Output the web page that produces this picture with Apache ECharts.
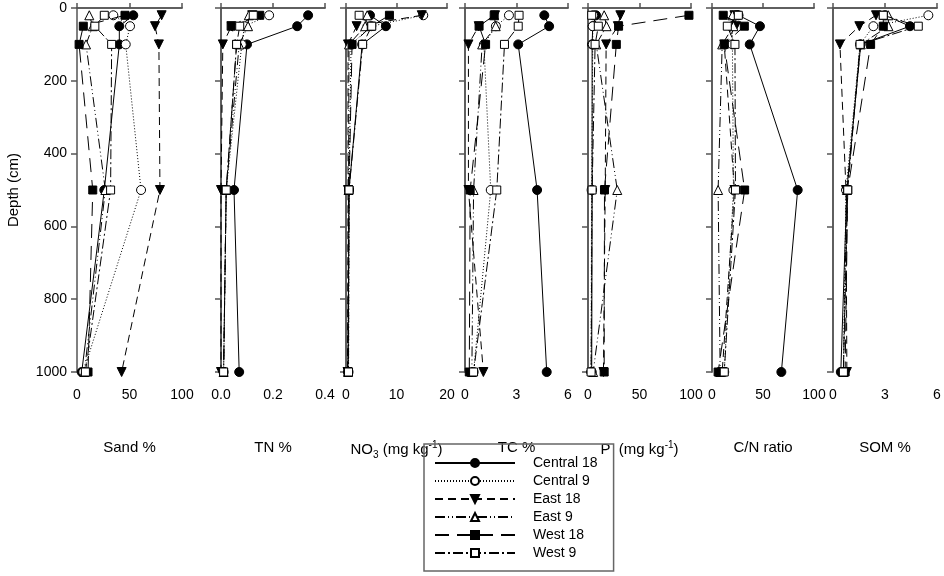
<!DOCTYPE html>
<html>
<head>
<meta charset="utf-8">
<script src="https://cdn.jsdelivr.net/npm/echarts@6/dist/echarts.min.js"></script>
<style>
  html, body { margin: 0; background: #fff; }
  #chart { width: 944px; height: 576px; }
</style>
</head>
<body>
<div id="chart"></div>
<script>
const depths = [20, 50, 100, 500, 1000];
const sites = ['Central 18', 'Central 9', 'East 18', 'East 9', 'West 18', 'West 9'];

// one row per site (same order as sites), one column per depth
const sand = [
  [53.6, 40.3, 40.3, 26, 4.5],
  [34.6, 50.5, 46.4, 61, 6],
  [80.6, 74.3, 78, 79, 42.5],
  [11.7, 15, 8.6, 27, 7],
  [45.7, 6, 2, 15, 10.5],
  [26, 17, 33, 32, 8]
];
const tn = [
  [0.335, 0.293, 0.1, 0.05, 0.07],
  [0.185, 0.09, 0.08, 0.02, 0.01],
  [0.12, 0.04, 0.007, 0.0, 0.0],
  [0.107, 0.104, 0.07, 0.02, 0.01],
  [0.149, 0.039, 0.06, 0.02, 0.01],
  [0.124, 0.072, 0.06, 0.02, 0.01]
];
const no3 = [
  [4.75, 7.9, 3.2, 0.6, 0.4],
  [15.3, 5.0, 1.0, 0.6, 0.5],
  [15.0, 2.1, 0.4, 0.4, 0.3],
  [4.2, 3.8, 0.6, 0.5, 0.4],
  [8.6, 5.0, 1.2, 0.6, 0.4],
  [2.6, 5.1, 3.3, 0.6, 0.5]
];
const tc = [
  [4.62, 4.9, 3.1, 4.2, 4.76],
  [2.56, 1.8, 1.1, 1.5, 0.5],
  [1.75, 0.8, 0.2, 0.2, 1.07],
  [1.7, 1.79, 1.0, 0.5, 0.4],
  [1.7, 0.82, 1.2, 0.3, 0.25],
  [3.15, 3.1, 2.3, 1.85, 0.5]
];
const phos = [
  [7.8, 4.6, 4.0, 4.0, 3.6],
  [5, 4.6, 4.6, 3.5, 3],
  [31.4, 29, 17.6, 16.7, 15],
  [15.7, 18, 8, 28.4, 5],
  [98, 29.7, 27.5, 16, 15.7],
  [3.6, 10, 6.9, 4, 3]
];
const cn = [
  [26, 47, 37, 84, 68],
  [24, 20, 20, 21, 12],
  [22, 23.5, 12, 22, 10],
  [20, 21, 10, 6, 8],
  [11, 31.7, 12, 32, 6],
  [25.8, 15, 22.5, 23, 12]
];
const som = [
  [3.0, 4.44, 1.6, 0.8, 0.45],
  [5.5, 2.33, 1.56, 0.75, 0.6],
  [2.48, 1.52, 0.4, 0.75, 0.8],
  [3.19, 3.2, 1.6, 0.8, 0.6],
  [2.9, 2.9, 2.17, 0.85, 0.7],
  [2.9, 4.92, 1.56, 0.85, 0.6]
];

const font = '"Liberation Sans", Arial, sans-serif';
const axisColor = '#555';

const panels = [
  { values: sand, title: 'Sand %', min: 0, max: 100, step: 50, left: 77, width: 105, offset: 0, box: false },
  { values: tn, title: 'TN %', min: 0, max: 0.4, step: 0.2, left: 221, width: 104, offset: 18, box: true, digits: 1 },
  { values: no3, title: '{t|NO}{sub|3}{t| (mg kg}{sup|-1}{t|)}', min: 0, max: 20, step: 10, left: 346, width: 101, offset: 7, box: true },
  { values: tc, title: 'TC %', min: 0, max: 6, step: 3, left: 465, width: 103, offset: 1, box: true },
  { values: phos, title: '{t|P  (mg kg}{sup|-1}{t|)}', min: 0, max: 100, step: 50, left: 588, width: 103, offset: 0, box: true },
  { values: cn, title: 'C/N ratio', min: 0, max: 100, step: 50, left: 712, width: 102, offset: 1, box: true },
  { values: som, title: 'SOM %', min: 0, max: 6, step: 3, left: 833, width: 104, offset: 0, box: true }
];

const looks = [
  { symbol: 'circle', size: 9, fill: '#000', dash: 'solid', rotate: 0 },
  { symbol: 'circle', size: 9, fill: '#fff', dash: [1, 2], rotate: 0 },
  { symbol: 'triangle', size: 9, fill: '#000', dash: [8, 5], rotate: 180 },
  { symbol: 'triangle', size: 9, fill: '#fff', dash: [10, 3, 1, 3, 1, 3], rotate: 0 },
  { symbol: 'rect', size: 8, fill: '#000', dash: [14, 8], rotate: 0 },
  { symbol: 'rect', size: 8, fill: '#fff', dash: [10, 3, 2, 3], rotate: 0 }
];

const line = { show: true, lineStyle: { color: axisColor, width: 1.5 } };
const grids = [], xAxes = [], yAxes = [], series = [];

panels.forEach((p, k) => {
  grids.push({ left: p.left, width: p.width, top: 8, height: 364 });

  xAxes.push({
    type: 'value', gridIndex: k, position: 'bottom',
    min: p.min, max: p.max, interval: p.step,
    axisLine: line,
    axisTick: { show: true, inside: true, length: 5, lineStyle: { color: axisColor, width: 1.5 } },
    splitLine: { show: false },
    axisLabel: {
      color: '#000', fontSize: 14, fontFamily: font, margin: 16,
      formatter: v => p.digits ? v.toFixed(p.digits) : String(v)
    },
    name: p.title, nameLocation: 'middle', nameGap: 68,
    nameTextStyle: {
      color: '#000', fontSize: 15, fontFamily: font,
      rich: {
        t: { fontSize: 15, fontFamily: font, color: '#000', lineHeight: 20 },
        sub: { fontSize: 10, fontFamily: font, color: '#000', lineHeight: 8, verticalAlign: 'bottom' },
        sup: { fontSize: 10, fontFamily: font, color: '#000', lineHeight: 8, verticalAlign: 'top' }
      }
    }
  });
  // top frame line
  xAxes.push({
    type: 'value', gridIndex: k, position: 'top', min: p.min, max: p.max,
    axisLine: line, axisTick: { show: false }, axisLabel: { show: false }, splitLine: { show: false }
  });

  yAxes.push({
    type: 'value', gridIndex: k, position: 'left', inverse: true,
    min: 0, max: 1000, interval: 200, offset: p.offset,
    axisLine: line,
    axisTick: { show: true, length: 6, lineStyle: { color: axisColor, width: 1.5 } },
    splitLine: { show: false },
    axisLabel: {
      show: k === 0, color: '#000', fontSize: 14, fontFamily: font, margin: 10,
      formatter: v => String(v)
    },
    name: k === 0 ? 'Depth (cm)' : '', nameLocation: 'middle', nameGap: 56, nameRotate: 90,
    nameTextStyle: { color: '#000', fontSize: 15, fontFamily: font }
  });
  const yIndex = yAxes.length - 1;
  if (p.box) {
    yAxes.push({
      type: 'value', gridIndex: k, position: 'right', inverse: true, min: 0, max: 1000,
      axisLine: line, axisTick: { show: false }, axisLabel: { show: false }, splitLine: { show: false }
    });
  }

  p.values.forEach((row, s) => {
    const look = looks[s];
    series.push({
      type: 'line', name: sites[s],
      xAxisIndex: k * 2, yAxisIndex: yIndex,
      data: row.map((v, i) => [v, depths[i]]),
      symbol: look.symbol, symbolSize: look.size, symbolRotate: look.rotate,
      showAllSymbol: true, clip: false,
      lineStyle: { color: '#000', width: 1, type: look.dash },
      itemStyle: { color: look.fill, borderColor: '#000', borderWidth: 1 },
      emphasis: { disabled: true },
      z: 3 + s
    });
  });
});

const chart = echarts.init(document.getElementById('chart'), null, { renderer: 'canvas' });
chart.setOption({
  animation: false,
  backgroundColor: '#fff',
  grid: grids,
  xAxis: xAxes,
  yAxis: yAxes,
  legend: {
    orient: 'vertical', left: 424, top: 444,
    data: sites, selectedMode: false,
    itemWidth: 80, itemHeight: 10, itemGap: 2,
    padding: [11, 16, 10, 10],
    borderColor: '#666', borderWidth: 1.5,
    textStyle: { color: '#000', fontSize: 14, fontFamily: font, lineHeight: 16, padding: [0, 0, 0, 13] }
  },
  series: series
});
</script>
</body>
</html>
